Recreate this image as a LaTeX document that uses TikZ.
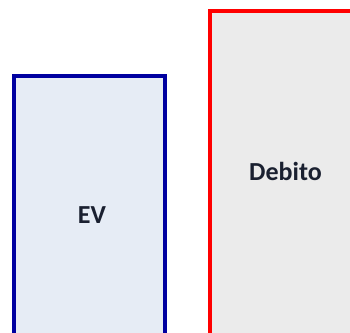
\documentclass[tikz,border=0pt]{standalone}
\usepackage{fontspec}
\setmainfont{Carlito}
\definecolor{evborder}{HTML}{0000A0}
\definecolor{evfill}{HTML}{E6ECF5}
\definecolor{debborder}{HTML}{FF0000}
\definecolor{debfill}{HTML}{EBEBEB}
\definecolor{txt}{HTML}{1A2030}
\begin{document}
\begin{tikzpicture}[x=1pt,y=1pt,
  barbox/.style={line width=3.6pt},
  lbl/.style={font=\bfseries\fontsize{26}{30}\selectfont, text=txt, inner sep=0pt}]
\useasboundingbox (0,0) rectangle (350,332);
\draw[barbox, draw=evborder, fill=evfill] (14,-2.6) rectangle (165,256);
\draw[barbox, draw=debborder, fill=debfill] (210,-2.6) rectangle (356,321);
\node[lbl] (ev) at (92,117) {EV};
\node[lbl] (deb) at (285.5,160.5) {Debito};
\end{tikzpicture}
\end{document}
